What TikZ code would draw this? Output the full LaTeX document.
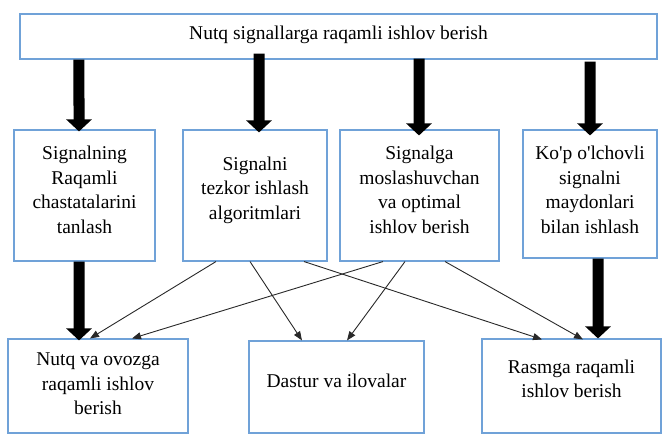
\documentclass[tikz,border=0pt]{standalone}
\usepackage{fontspec}
\setmainfont{Liberation Serif}
\usetikzlibrary{arrows.meta}
\definecolor{boxblue}{RGB}{112,162,216}
\definecolor{thinline}{RGB}{40,40,40}
\tikzset{
  box/.style={draw=boxblue, line width=1.1bp, fill=white, inner sep=0pt},
  txt/.style={align=center, inner sep=0pt, font=\fontsize{19.5bp}{24.5bp}\selectfont},
  bigarrow/.style={line width=11bp, -{Triangle[width=25bp,length=12bp]}},
  thinarrow/.style={draw=thinline, line width=0.9bp, -{Triangle[width=7bp,length=9bp]}}
}
\begin{document}
\begin{tikzpicture}[x=1bp,y=-1bp]
\useasboundingbox (0,0) rectangle (662,434);
% boxes
\node[box, minimum width=637bp, minimum height=45bp] (top) at (338.5,36.5) {};
\node[box, minimum width=141bp, minimum height=131bp] (m1) at (84.5,195.5) {};
\node[box, minimum width=144bp, minimum height=131bp] (m2) at (255,195.5) {};
\node[box, minimum width=159bp, minimum height=131bp] (m3) at (419.5,195.5) {};
\node[box, minimum width=134bp, minimum height=128bp] (m4) at (590,194) {};
\node[box, minimum width=180bp, minimum height=94bp] (ba) at (98,386) {};
\node[box, minimum width=175bp, minimum height=92bp] (bb) at (336.5,387) {};
\node[box, minimum width=179bp, minimum height=94bp] (bc) at (571.5,386) {};
% texts
\node[txt] (ttop) at (338.5,35) {Nutq signallarga raqamli ishlov berish};
\node[txt] (t1) at (84.5,190) {Signalning\\Raqamli\\chastatalarini\\tanlash};
\node[txt] (t2) at (255,190) {Signalni\\tezkor ishlash\\algoritmlari};
\node[txt] (t3) at (419.5,190) {Signalga\\moslashuvchan\\va optimal\\ishlov berish};
\node[txt] (t4) at (590,190) {Ko\textquotesingle p o\textquotesingle lchovli\\signalni\\maydonlari\\bilan ishlash};
\node[txt] (ta) at (98,384) {Nutq va ovozga\\raqamli ishlov\\berish};
\node[txt] (tb) at (336.5,381) {Dastur va ilovalar};
\node[txt] (tc) at (571.5,379) {Rasmga raqamli\\ishlov berish};
% thick arrows
\draw[bigarrow] ([xshift=-259.5bp]top.south) -- ([xshift=-5.5bp,yshift=-2bp]m1.north);
\draw[bigarrow] ([xshift=-79.5bp,yshift=6bp]top.south) -- ([xshift=4bp,yshift=-3bp]m2.north);
\draw[bigarrow] ([xshift=80.5bp,yshift=1bp]top.south) -- ([xshift=-0.5bp,yshift=-6bp]m3.north);
\draw[bigarrow] ([xshift=251.5bp,yshift=-2bp]top.south) -- ([yshift=-6bp]m4.north);
\draw[bigarrow] ([xshift=-5.5bp]m1.south) -- ([xshift=-19bp,yshift=-2bp]ba.north);
\draw[bigarrow] ([xshift=8bp]m4.south) -- ([xshift=26.5bp]bc.north);
% thin arrows
\draw[thinarrow] ([xshift=-39bp]m2.south) -- ([xshift=-8bp]ba.north);
\draw[thinarrow] ([xshift=-5bp]m2.south) -- ([xshift=-34.5bp]bb.north);
\draw[thinarrow] ([xshift=49bp]m2.south) -- ([xshift=-29.5bp,yshift=-1bp]bc.north);
\draw[thinarrow] ([xshift=-36.5bp]m3.south) -- ([xshift=34bp]ba.north);
\draw[thinarrow] ([xshift=-14.5bp]m3.south) -- ([xshift=10.5bp]bb.north);
\draw[thinarrow] ([xshift=25.5bp]m3.south) -- ([xshift=11.5bp,yshift=-1bp]bc.north);
\end{tikzpicture}
\end{document}
